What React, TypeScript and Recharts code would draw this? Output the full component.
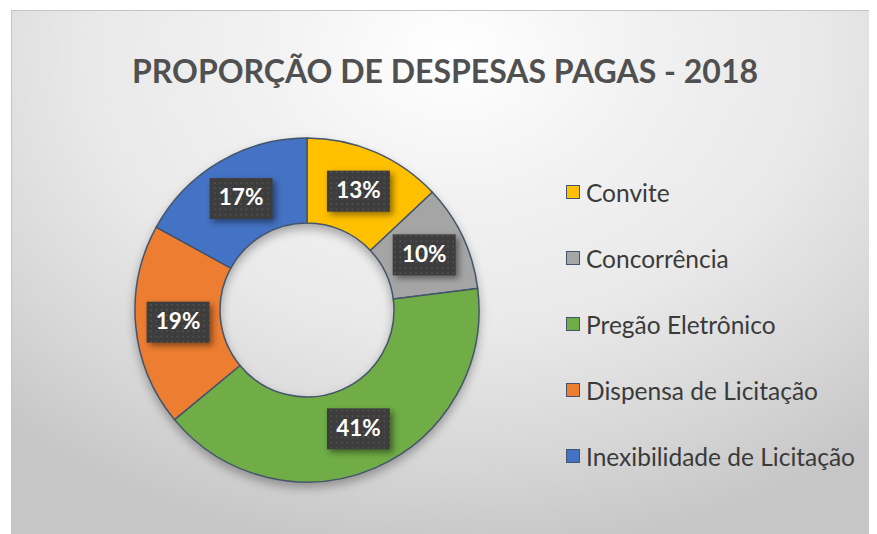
import React from 'react';
import { PieChart, Pie, Cell, Legend } from 'recharts';

const categories = ['Convite', 'Concorrência', 'Pregão Eletrônico', 'Dispensa de Licitação', 'Inexibilidade de Licitação'];
const values = [13, 10, 41, 19, 17];
const colors = ['#FFC000', '#A5A5A5', '#70AD47', '#ED7D31', '#4472C4'];
const title = 'PROPORÇÃO DE DESPESAS PAGAS - 2018';

const data = categories.map((name, i) => ({ name, value: values[i], color: colors[i] }));

const RADIAN = Math.PI / 180;
const FONT = 'Lato, "Open Sans", sans-serif';

const renderLabel = (props: any) => {
  const { cx, cy, midAngle, innerRadius, outerRadius, value } = props;
  const r = (innerRadius + outerRadius) / 2;
  const x = cx + r * Math.cos(-midAngle * RADIAN);
  const y = cy + r * Math.sin(-midAngle * RADIAN);
  const w = 63;
  const h = 41;
  return (
    <g>
      <rect x={x - w / 2} y={y - h / 2} width={w} height={h} fill="url(#dotPattern)" style={{ filter: 'drop-shadow(3px 3px 3px rgba(0,0,0,0.45))' }} />
      <text x={x} y={y + 1} textAnchor="middle" dominantBaseline="middle" fill="#ffffff" fontFamily={FONT} fontWeight={700} fontSize={22.5}>
        {`${value}%`}
      </text>
    </g>
  );
};

const renderLegend = () => (
  <div style={{ fontFamily: FONT, fontSize: 24.5, color: '#3a3a3a' }}>
    {data.map((d) => (
      <div key={d.name} style={{ height: 66, display: 'flex', alignItems: 'center', whiteSpace: 'nowrap' }}>
        <span style={{ display: 'inline-block', width: 12, height: 12, background: d.color, border: '1.5px solid #44546A', marginRight: 6 }} />
        <span>{d.name}</span>
      </div>
    ))}
  </div>
);

export default function App() {
  return (
    <div style={{ position: 'relative', width: 877, height: 534, margin: '-8px 0 0 -8px', overflow: 'hidden' }}>
      <svg width={0} height={0} style={{ position: 'absolute' }}>
        <defs>
          <pattern id="dotPattern" width={5.3} height={5.3} patternUnits="userSpaceOnUse">
            <rect width={5.3} height={5.3} fill="#3d3d3d" />
            <rect x={2} y={2} width={1.5} height={1.5} fill="#555555" />
          </pattern>
        </defs>
      </svg>
      <style>{`.recharts-pie { filter: drop-shadow(0px 5px 5px rgba(0,0,0,0.3)); }`}</style>
      <div
        style={{
          position: 'absolute',
          left: 11,
          top: 10,
          width: 880,
          height: 530,
          borderTop: '1px solid #c4c4c4',
          borderLeft: '1px solid #c4c4c4',
          background: 'radial-gradient(ellipse 75% 95% at 50% 8%, #ffffff 0%, #f1f1f1 30%, #e9e9e9 55%, #d7d7d7 80%, #c6c6c6 100%)',
        }}
      />
      <div
        style={{
          position: 'absolute',
          left: 11,
          top: 51,
          width: 868,
          textAlign: 'center',
          fontFamily: FONT,
          fontWeight: 700,
          fontSize: 32,
          color: '#505050',
        }}
      >
        {title}
      </div>
      <div style={{ position: 'absolute', left: 0, top: 0 }}>
        <PieChart width={877} height={534}>
          <Pie
            data={data}
            dataKey="value"
            nameKey="name"
            cx={302}
            cy={305}
            innerRadius={87}
            outerRadius={172}
            startAngle={90}
            endAngle={-270}
            stroke="#44546A"
            strokeWidth={1.5}
            label={renderLabel}
            labelLine={false}
            isAnimationActive={false}
          >
            {data.map((d) => (
              <Cell key={d.name} fill={d.color} />
            ))}
          </Pie>
          <Legend
            content={renderLegend}
            wrapperStyle={{ position: 'absolute', left: 566, top: 159, width: 310 }}
          />
        </PieChart>
      </div>
    </div>
  );
}
